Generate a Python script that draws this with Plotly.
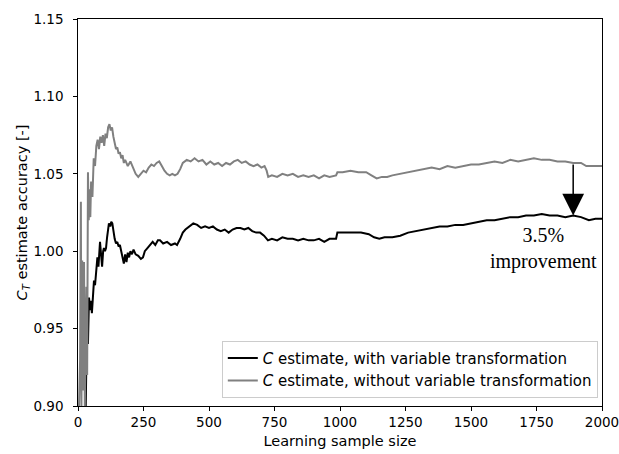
import plotly.graph_objects as go

# ---- data ----
gray_x = [3, 8, 11, 13, 16, 19, 23, 26, 30, 32, 35, 38, 41, 44, 47, 50, 55, 60, 65, 70,
          75, 80, 85, 90, 95, 100, 105, 110, 115, 120, 125, 130, 135, 140, 145, 150, 155,
          160, 165, 170, 175, 180, 190, 200, 210, 220, 230, 240, 250, 260, 270, 280, 290,
          300, 310, 320, 330, 340, 350, 360, 370, 380, 390, 400, 415, 430, 445, 460, 475,
          490, 505, 520, 535, 550, 565, 580, 595, 610, 625, 640, 655, 670, 685, 700, 712,
          720, 726, 740, 760, 780, 800, 820, 840, 860, 880, 900, 920, 940, 960, 985, 990,
          1010, 1040, 1070, 1100, 1120, 1140, 1160, 1180, 1200, 1230, 1260, 1290, 1320,
          1350, 1380, 1410, 1440, 1470, 1500, 1530, 1560, 1590, 1620, 1650, 1680, 1710,
          1740, 1770, 1800, 1830, 1860, 1890, 1920, 1940, 1970, 2000]
gray_y = [0.895, 0.93, 1.032, 0.895, 0.994, 0.91, 0.993, 0.898, 0.95, 0.977, 0.92, 1.051,
          1.02, 1.04, 1.022, 1.045, 1.035, 1.06, 1.055, 1.068, 1.072, 1.066, 1.074, 1.07,
          1.075, 1.068, 1.076, 1.073, 1.08, 1.082, 1.078, 1.08, 1.074, 1.07, 1.066, 1.067,
          1.063, 1.064, 1.06, 1.062, 1.057, 1.059, 1.055, 1.058, 1.054, 1.050, 1.048, 1.050,
          1.052, 1.051, 1.054, 1.056, 1.055, 1.057, 1.058, 1.055, 1.052, 1.050, 1.049, 1.050,
          1.049, 1.050, 1.053, 1.057, 1.059, 1.058, 1.060, 1.058, 1.059, 1.056, 1.058, 1.056,
          1.057, 1.055, 1.057, 1.056, 1.058, 1.059, 1.057, 1.058, 1.056, 1.055, 1.056, 1.054,
          1.055, 1.052, 1.048, 1.049, 1.048, 1.050, 1.049, 1.050, 1.048, 1.049, 1.048, 1.049,
          1.047, 1.049, 1.048, 1.049, 1.051, 1.051, 1.052, 1.051, 1.051, 1.049, 1.047, 1.048,
          1.048, 1.049, 1.050, 1.051, 1.052, 1.053, 1.054, 1.053, 1.055, 1.054, 1.055, 1.056,
          1.056, 1.057, 1.058, 1.057, 1.059, 1.058, 1.059, 1.060, 1.059, 1.059, 1.058, 1.058,
          1.057, 1.057, 1.055, 1.055, 1.055]

black_x = [3, 20, 29, 33, 35, 38, 42, 46, 50, 53, 57, 61, 65, 70, 74, 78, 84, 88, 92, 96,
           99, 103, 107, 111, 115, 118, 123, 127, 131, 135, 140, 145, 150, 155, 160, 165,
           170, 175, 180, 185, 190, 195, 200, 206, 212, 220, 230, 240, 248, 255, 265, 275,
           285, 295, 305, 313, 325, 340, 355, 370, 378, 390, 400, 410, 425, 440, 455, 470,
           485, 500, 515, 530, 545, 560, 575, 590, 605, 620, 635, 650, 665, 680, 695, 710,
           725, 740, 760, 780, 800, 820, 840, 860, 880, 900, 920, 940, 960, 985, 990, 1020,
           1050, 1080, 1110, 1130, 1150, 1170, 1200, 1230, 1260, 1290, 1320, 1350, 1380,
           1410, 1440, 1470, 1500, 1530, 1560, 1590, 1620, 1650, 1680, 1710, 1740, 1770,
           1800, 1830, 1860, 1890, 1920, 1950, 1975, 2000]
black_y = [0.895, 0.89, 0.895, 0.93, 0.962, 0.94, 0.97, 0.962, 0.968, 0.960, 0.975, 0.981,
           0.978, 0.992, 0.996, 0.990, 1.006, 0.998, 0.990, 1.000, 1.002, 1.000, 1.002, 1.009,
           1.013, 1.018, 1.016, 1.019, 1.018, 1.012, 1.008, 1.005, 1.006, 1.003, 1.004, 1.000,
           0.996, 0.992, 0.998, 0.993, 0.999, 0.996, 1.000, 0.998, 1.001, 0.998, 0.997, 0.995,
           0.996, 1.000, 1.002, 1.004, 1.006, 1.004, 1.007, 1.007, 1.005, 1.006, 1.004, 1.005,
           1.004, 1.008, 1.012, 1.014, 1.016, 1.018, 1.017, 1.015, 1.016, 1.015, 1.016, 1.014,
           1.013, 1.014, 1.012, 1.014, 1.015, 1.015, 1.014, 1.015, 1.013, 1.012, 1.012, 1.010,
           1.007, 1.008, 1.007, 1.009, 1.008, 1.008, 1.007, 1.008, 1.007, 1.007, 1.008, 1.006,
           1.008, 1.008, 1.012, 1.012, 1.012, 1.012, 1.011, 1.009, 1.008, 1.009, 1.009, 1.010,
           1.012, 1.013, 1.014, 1.015, 1.016, 1.016, 1.017, 1.017, 1.018, 1.019, 1.020, 1.020,
           1.021, 1.022, 1.022, 1.023, 1.023, 1.024, 1.023, 1.023, 1.022, 1.023, 1.022, 1.020,
           1.021, 1.021]

x_ticks = [0, 250, 500, 750, 1000, 1250, 1500, 1750, 2000]
y_ticks = [0.90, 0.95, 1.00, 1.05, 1.10, 1.15]

arrow_x = 1890
arrow_from = 1.057
arrow_to = 1.023
label_x = 1775
label_y = 1.002

font_main = "DejaVu Sans"

fig = go.Figure()
fig.add_trace(go.Scatter(x=black_x, y=black_y, mode="lines",
                         line=dict(color="black", width=2),
                         name="<i>C</i> estimate, with variable transformation"))
fig.add_trace(go.Scatter(x=gray_x, y=gray_y, mode="lines",
                         line=dict(color="#808080", width=2),
                         name="<i>C</i> estimate, without variable transformation"))

fig.add_annotation(x=arrow_x, y=arrow_to, ax=arrow_x, ay=arrow_from,
                   xref="x", yref="y", axref="x", ayref="y",
                   showarrow=True, arrowhead=2, arrowsize=2.9, arrowwidth=1.5,
                   arrowcolor="black", text="")
fig.add_annotation(x=label_x, y=label_y, xref="x", yref="y", showarrow=False,
                   text="3.5%<br>improvement", align="center",
                   font=dict(family="Liberation Serif", size=20, color="black"))

axis_common = dict(showline=True, linecolor="black", linewidth=1, mirror=True,
                   ticks="outside", ticklen=4, tickwidth=1, tickcolor="black",
                   showgrid=False, zeroline=False, automargin=False,
                   ticklabeloverflow="allow",
                   tickfont=dict(family=font_main, size=13.5, color="black"))

fig.update_xaxes(range=[0, 2000], tickvals=x_ticks,
                 ticktext=[str(v) for v in x_ticks],
                 title=dict(text="Learning sample size",
                            font=dict(family=font_main, size=14.5, color="black"),
                            standoff=6),
                 **axis_common)
fig.update_yaxes(range=[0.90, 1.15], tickvals=y_ticks,
                 ticktext=[f"{v:.2f}\u2002" for v in y_ticks],
                 title=dict(text="<i>C</i><sub><i>T</i></sub> estimate accuracy [-]",
                            font=dict(family=font_main, size=14.5, color="black"),
                            standoff=2),
                 **axis_common)

fig.update_layout(
    width=619, height=454,
    margin=dict(l=78, r=17, t=19, b=48),
    paper_bgcolor="white", plot_bgcolor="white",
    font=dict(family=font_main, size=13.5, color="black"),
    legend=dict(x=0.992, y=0.021, xanchor="right", yanchor="bottom",
                bgcolor="white", bordercolor="#cccccc", borderwidth=1,
                font=dict(family=font_main, size=15, color="black"),
                tracegroupgap=0),
)

fig.write_html("out.html")
